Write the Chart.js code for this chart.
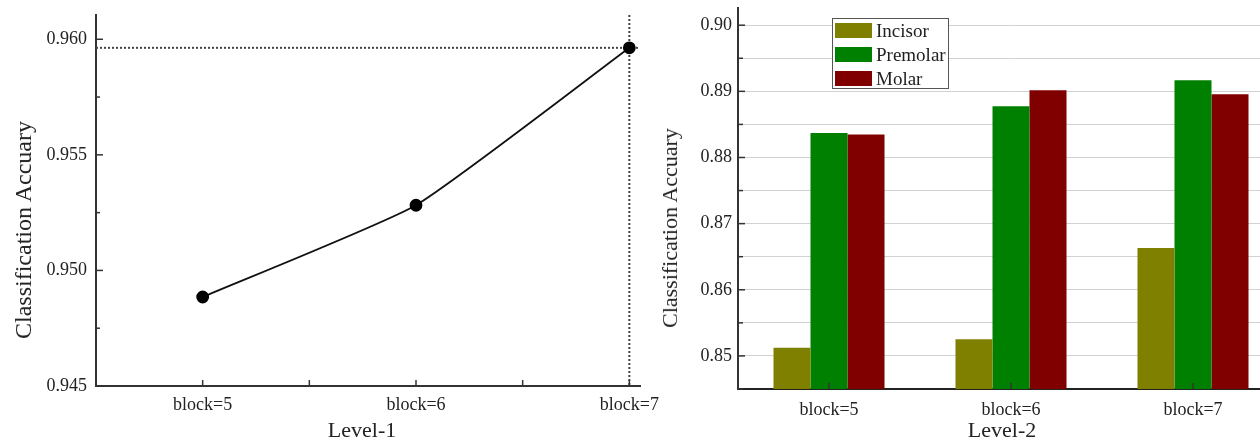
<!DOCTYPE html>
<html><head><meta charset="utf-8">
<script src="https://cdn.jsdelivr.net/npm/chart.js@4/dist/chart.umd.min.js"></script>
<style>
html,body{margin:0;padding:0;background:#fff;}
body{width:1260px;height:439px;overflow:hidden;position:relative;font-family:'Liberation Serif','Times New Roman',serif;color:#222;}
#wrapL{position:absolute;left:0;top:0;width:700px;height:439px;}
#wrapR{position:absolute;left:650px;top:0;width:650px;height:439px;}
.t{position:absolute;white-space:nowrap;transform:translate(-50%,-50%);line-height:1;}
.rot{transform:translate(-50%,-50%) rotate(-90deg);}
#legend{position:absolute;left:832px;top:18px;width:115px;height:69px;border:1px solid #555;background:#fff;}
.li{position:absolute;left:2px;height:15px;display:flex;align-items:center;font-size:19px;white-space:nowrap;}
.sw{width:37px;height:15px;margin-right:4px;flex:none;}
</style></head>
<body>
<div id="wrapL"><canvas id="c1" width="700" height="439"></canvas></div>
<div id="wrapR"><canvas id="c2" width="650" height="439"></canvas></div>
<div class="t rot" style="left:23px;top:230px;font-size:24px;">Classification Accuary</div>
<div class="t" style="left:362px;top:430px;font-size:22px;">Level-1</div>
<div class="t rot" style="left:670px;top:228px;font-size:22px;">Classification Accuary</div>
<div class="t" style="left:1002px;top:430px;font-size:22px;">Level-2</div>
<div id="legend"></div>
<script>
// ---- data ----
const categories = ['block=5', 'block=6', 'block=7'];
const level1Blocks = [5, 6, 7];
const level1Acc = [0.94885, 0.95282, 0.95963];
const seriesNames = ['Incisor', 'Premolar', 'Molar'];
const incisorAcc = [0.85125, 0.85252, 0.86630];
const premolarAcc = [0.88372, 0.88775, 0.89166];
const molarAcc = [0.88347, 0.89015, 0.88955];

Chart.defaults.font.family = "'Liberation Serif','Times New Roman',serif";
Chart.defaults.color = '#222';

const noPad = s => { s.paddingTop = 0; s.paddingBottom = 0; s.paddingLeft = 0; s.paddingRight = 0; };

const innerTicks = {
  id: 'innerTicks',
  afterDatasetsDraw(chart, args, o) {
    const ctx = chart.ctx, xs = chart.scales.x, ys = chart.scales.y;
    ctx.save();
    ctx.strokeStyle = o.color; ctx.lineWidth = o.width;
    ys.ticks.forEach((t, i) => {
      const y = ys.getPixelForTick(i);
      const L = t.label ? o.yMajor : o.yMinor;
      ctx.beginPath(); ctx.moveTo(ys.right, y); ctx.lineTo(ys.right + L, y); ctx.stroke();
    });
    xs.ticks.forEach((t, i) => {
      const x = xs.getPixelForTick(i);
      if (x <= xs.left + 1) return;
      const L = t.label ? o.xMajor : o.xMinor;
      ctx.beginPath(); ctx.moveTo(x, xs.top); ctx.lineTo(x, xs.top - L); ctx.stroke();
    });
    ctx.restore();
  }
};

const refLines = {
  id: 'refLines',
  beforeDatasetsDraw(chart) {
    const ctx = chart.ctx, xs = chart.scales.x, ys = chart.scales.y;
    const m = Math.max(...level1Acc);
    const k = level1Acc.indexOf(m);
    const py = ys.getPixelForValue(m), px = xs.getPixelForValue(level1Blocks[k]);
    ctx.save();
    ctx.strokeStyle = '#444'; ctx.lineWidth = 2; ctx.setLineDash([2, 2]);
    ctx.beginPath(); ctx.moveTo(xs.left, py); ctx.lineTo(xs.right, py); ctx.stroke();
    ctx.beginPath(); ctx.moveTo(px, ys.top); ctx.lineTo(px, ys.bottom); ctx.stroke();
    ctx.restore();
  }
};

new Chart(document.getElementById('c1'), {
  type: 'line',
  data: {
    datasets: [{
      label: 'Level-1',
      data: level1Blocks.map((b, i) => ({x: b, y: level1Acc[i]})),
      borderColor: '#111', backgroundColor: '#000',
      borderWidth: 1.8, pointRadius: 5.5, pointBackgroundColor: '#000', pointBorderColor: '#000',
      tension: 0.15, fill: false
    }]
  },
  options: {
    responsive: false, animation: false,
    layout: {padding: {top: 15, right: 60, left: 0, bottom: 0}},
    plugins: {legend: {display: false}, tooltip: {enabled: false},
      innerTicks: {color: '#333', width: 1.5, yMajor: 7, yMinor: 4, xMajor: 6, xMinor: 6}},
    scales: {
      x: {
        type: 'linear', min: 4.5, max: 7.05,
        grid: {display: false, drawTicks: false},
        border: {display: true, color: '#333', width: 2},
        ticks: {stepSize: 0.5, includeBounds: false, autoSkip: false, maxRotation: 0, padding: 8,
          font: {size: 18},
          callback: v => { const k = level1Blocks.indexOf(v); return k >= 0 ? categories[k] : ''; }},
        afterFit: s => { s.height = 53; noPad(s); }
      },
      y: {
        min: 0.945, max: 0.96105,
        grid: {display: false, drawTicks: false},
        border: {display: true, color: '#333', width: 2},
        ticks: {stepSize: 0.0025, includeBounds: false, maxTicksLimit: 20, autoSkip: false, padding: 9,
          font: {size: 18},
          callback: v => Math.abs(v * 200 - Math.round(v * 200)) < 1e-6 ? v.toFixed(3) : ''},
        afterFit: s => { s.width = 96; noPad(s); }
      }
    }
  },
  plugins: [refLines, innerTicks]
});

const chart2 = new Chart(document.getElementById('c2'), {
  type: 'bar',
  data: {
    labels: categories,
    datasets: [
      {label: seriesNames[0], data: incisorAcc, backgroundColor: '#808000'},
      {label: seriesNames[1], data: premolarAcc, backgroundColor: '#008000'},
      {label: seriesNames[2], data: molarAcc, backgroundColor: '#800000'}
    ]
  },
  options: {
    responsive: false, animation: false,
    layout: {padding: {top: 8, right: 16, left: 0, bottom: 0}},
    datasets: {bar: {barPercentage: 1, categoryPercentage: 0.61, borderWidth: 0}},
    plugins: {legend: {display: false}, tooltip: {enabled: false},
      innerTicks: {color: '#333', width: 1.5, yMajor: 7, yMinor: 5, xMajor: 6, xMinor: 6}},
    scales: {
      x: {
        grid: {display: false, drawTicks: false},
        border: {display: true, color: '#222', width: 2},
        ticks: {autoSkip: false, maxRotation: 0, padding: 10, font: {size: 18}},
        afterFit: s => { s.height = 50; noPad(s); }
      },
      y: {
        min: 0.845, max: 0.9026,
        grid: {display: true, drawTicks: false, color: '#d2d2d2', lineWidth: 1},
        border: {display: true, color: '#333', width: 2},
        ticks: {stepSize: 0.005, includeBounds: false, maxTicksLimit: 20, autoSkip: false, padding: 6,
          font: {size: 18},
          callback: v => Math.abs(v * 100 - Math.round(v * 100)) < 1e-6 ? v.toFixed(2) : ''},
        afterFit: s => { s.width = 88; noPad(s); }
      }
    }
  },
  plugins: [innerTicks]
});

// HTML legend built from chart datasets
const lg = document.getElementById('legend');
const rowTops = [4, 28, 52];
chart2.data.datasets.forEach((ds, i) => {
  const row = document.createElement('div');
  row.className = 'li'; row.style.top = rowTops[i] + 'px';
  const sw = document.createElement('span'); sw.className = 'sw'; sw.style.background = ds.backgroundColor;
  const tx = document.createElement('span'); tx.textContent = ds.label;
  row.appendChild(sw); row.appendChild(tx); lg.appendChild(row);
});
</script>
</body></html>
